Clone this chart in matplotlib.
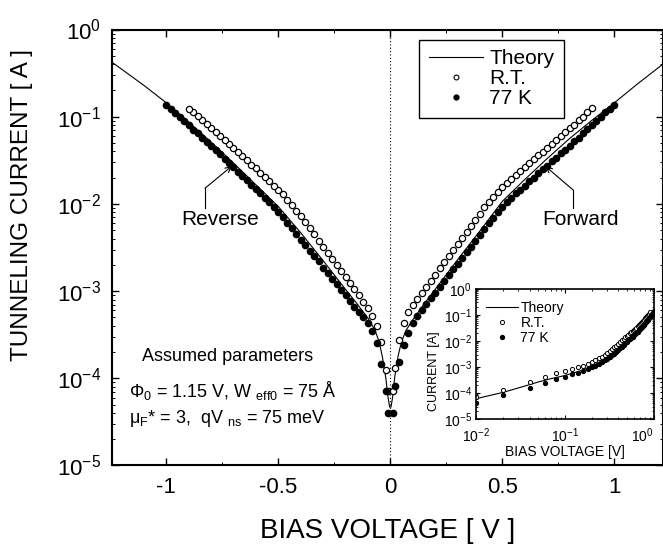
import numpy as np
import matplotlib
matplotlib.use('Agg')
import matplotlib.pyplot as plt
from matplotlib.lines import Line2D
from matplotlib.ticker import LogLocator, NullFormatter, MultipleLocator

plt.rcParams['font.family'] = ['Liberation Sans', 'DejaVu Sans']
plt.rcParams['mathtext.default'] = 'regular'
plt.rcParams['axes.unicode_minus'] = False

# bias voltage magnitudes (V), data every 20 mV
volt_77 = [0.01, 0.02, 0.04, 0.06, 0.08, 0.10, 0.12, 0.14, 0.16, 0.18, 0.20,
           0.22, 0.24, 0.26, 0.28, 0.30, 0.32, 0.34, 0.36, 0.38, 0.40,
           0.42, 0.44, 0.46, 0.48, 0.50, 0.52, 0.54, 0.56, 0.58, 0.60,
           0.62, 0.64, 0.66, 0.68, 0.70, 0.72, 0.74, 0.76, 0.78, 0.80,
           0.82, 0.84, 0.86, 0.88, 0.90, 0.92, 0.94, 0.96, 0.98, 1.00]
volt_rt = [0.01, 0.02, 0.04, 0.06, 0.08, 0.10, 0.12, 0.14, 0.16, 0.18, 0.20,
           0.22, 0.24, 0.26, 0.28, 0.30, 0.32, 0.34, 0.36, 0.38, 0.40,
           0.42, 0.44, 0.46, 0.48, 0.50, 0.52, 0.54, 0.56, 0.58, 0.60,
           0.62, 0.64, 0.66, 0.68, 0.70, 0.72, 0.74, 0.76, 0.78, 0.80,
           0.82, 0.84, 0.86, 0.88, 0.90]

# log10 of current [A]
logI_77_fwd = [-4.40, -4.09, -3.81, -3.62, -3.48, -3.37, -3.29, -3.22, -3.15, -3.08, -3.02,
               -2.95, -2.88, -2.82, -2.75, -2.69, -2.62, -2.55, -2.49, -2.42, -2.36,
               -2.29, -2.22, -2.16, -2.09, -2.03, -1.98, -1.93, -1.88, -1.84, -1.79,
               -1.74, -1.70, -1.65, -1.60, -1.56, -1.51, -1.47, -1.42, -1.38, -1.33,
               -1.28, -1.24, -1.19, -1.14, -1.10, -1.05, -1.00, -0.95, -0.91, -0.86]
logI_77_rev = [-4.40, -4.15, -3.84, -3.60, -3.46, -3.36, -3.30, -3.24, -3.18, -3.11, -3.05,
               -2.99, -2.92, -2.86, -2.79, -2.73, -2.66, -2.60, -2.54, -2.47, -2.41,
               -2.34, -2.28, -2.22, -2.15, -2.09, -2.03, -1.98, -1.93, -1.88, -1.83,
               -1.78, -1.73, -1.68, -1.63, -1.58, -1.53, -1.48, -1.43, -1.38, -1.34,
               -1.29, -1.24, -1.19, -1.15, -1.10, -1.05, -1.00, -0.96, -0.91, -0.86]
logI_rt_fwd = [-4.15, -3.88, -3.56, -3.37, -3.24, -3.16, -3.09, -3.02, -2.95, -2.88, -2.81,
               -2.74, -2.67, -2.60, -2.53, -2.46, -2.39, -2.32, -2.25, -2.18, -2.11,
               -2.04, -1.98, -1.92, -1.86, -1.81, -1.76, -1.71, -1.67, -1.62, -1.58,
               -1.53, -1.49, -1.44, -1.40, -1.36, -1.31, -1.27, -1.22, -1.18, -1.13,
               -1.09, -1.04, -1.00, -0.95, -0.90]
logI_rt_rev = [-4.15, -3.90, -3.58, -3.40, -3.28, -3.19, -3.12, -3.05, -2.98, -2.91, -2.84,
               -2.77, -2.70, -2.63, -2.56, -2.49, -2.42, -2.35, -2.28, -2.21, -2.14,
               -2.08, -2.01, -1.95, -1.89, -1.84, -1.79, -1.74, -1.69, -1.64, -1.59,
               -1.55, -1.50, -1.45, -1.40, -1.36, -1.31, -1.27, -1.22, -1.17, -1.13,
               -1.08, -1.04, -0.99, -0.95, -0.91]

# theory curve
volt_th = [-1.25, -1.1, -1.0, -0.9, -0.8, -0.7, -0.6, -0.5, -0.4, -0.3, -0.2, -0.15,
           -0.1, -0.07, -0.05, -0.035, -0.02, -0.01, -0.003,
           0.003, 0.01, 0.02, 0.035, 0.05, 0.07, 0.1, 0.15, 0.2, 0.3, 0.4, 0.5,
           0.6, 0.7, 0.8, 0.9, 1.0, 1.1, 1.25]
logI_th = [-0.36, -0.64, -0.84, -1.06, -1.29, -1.53, -1.78, -2.03, -2.33, -2.65, -2.98, -3.14,
           -3.31, -3.44, -3.58, -3.76, -4.00, -4.22, -4.33,
           -4.33, -4.22, -3.98, -3.74, -3.58, -3.45, -3.33, -3.15, -2.98, -2.64, -2.31, -1.97,
           -1.72, -1.48, -1.25, -1.04, -0.84, -0.63, -0.33]

xtick_vals = [-1, -0.5, 0, 0.5, 1]
xtick_labels = ['-1', '-0.5', '0', '0.5', '1']

v77 = np.array(volt_77)
vrt = np.array(volt_rt)
I77f = 10 ** np.array(logI_77_fwd)
I77r = 10 ** np.array(logI_77_rev)
Irtf = 10 ** np.array(logI_rt_fwd)
Irtr = 10 ** np.array(logI_rt_rev)
vth = np.array(volt_th)
Ith = 10 ** np.array(logI_th)

fig = plt.figure(figsize=(6.63, 5.47), dpi=100)
ax = fig.add_axes([0.169, 0.149, 0.831, 0.797])

ax.plot(vth, Ith, '-', color='black', lw=0.8)
ax.plot(-vrt, Irtr, 'o', mfc='white', mec='black', ms=4.5, mew=0.9)
ax.plot(vrt, Irtf, 'o', mfc='white', mec='black', ms=4.5, mew=0.9)
ax.plot(-v77, I77r, 'o', color='black', ms=4.5)
ax.plot(v77, I77f, 'o', color='black', ms=4.5)
ax.axvline(0, color='black', ls=(0, (1, 2)), lw=0.8)

ax.set_yscale('log')
ax.set_ylim(1e-5, 1)
ax.set_xlim(-1.242, 1.217)
ax.set_xticks(xtick_vals)
ax.set_xticklabels(xtick_labels)
ax.xaxis.set_minor_locator(MultipleLocator(0.25))
ax.yaxis.set_minor_locator(LogLocator(base=10, subs=np.arange(2, 10), numticks=20))
ax.yaxis.set_minor_formatter(NullFormatter())
ax.tick_params(which='both', direction='in', top=True, right=True)
ax.tick_params(which='major', length=5, width=1, labelsize=16, pad=8)
ax.tick_params(which='minor', length=2.5, width=0.7)
for s in ax.spines.values():
    s.set_linewidth(1.5)

ax.set_xlabel('BIAS VOLTAGE [ V ]', fontsize=20, labelpad=15)
ax.set_ylabel('TUNNELING CURRENT [ A ]', fontsize=17.5)
ax.yaxis.set_label_coords(-0.143, 0.598)

# Reverse / Forward labels
ax.text(-0.76, 10 ** -2.18, 'Reverse', fontsize=15, ha='center', va='center')
ax.plot([-0.827, -0.827], [10 ** -2.05, 10 ** -1.82], color='black', lw=0.8)
ax.annotate('', xy=(-0.707, 10 ** -1.565), xytext=(-0.827, 10 ** -1.82),
            arrowprops=dict(arrowstyle='->', lw=0.8, color='black', shrinkA=0, shrinkB=0))
ax.text(0.851, 10 ** -2.18, 'Forward', fontsize=15, ha='center', va='center')
ax.plot([0.816, 0.816], [10 ** -2.05, 10 ** -1.84], color='black', lw=0.8)
ax.annotate('', xy=(0.693, 10 ** -1.57), xytext=(0.816, 10 ** -1.84),
            arrowprops=dict(arrowstyle='->', lw=0.8, color='black', shrinkA=0, shrinkB=0))

ax.text(0.054, 0.251, 'Assumed parameters', transform=ax.transAxes, fontsize=13, va='center')
ax.text(0.031, 0.172, '$\\mathregular{Φ_0}$ = 1.15 V, W $\\mathregular{_{eff0}}$ = 75 Å',
        transform=ax.transAxes, fontsize=13, va='center')
ax.text(0.031, 0.108, '$\\mathregular{μ_F}$* = 3,  qV $\\mathregular{_{ns}}$ = 75 meV',
        transform=ax.transAxes, fontsize=13, va='center')

handles = [Line2D([], [], color='black', lw=0.8),
           Line2D([], [], ls='', marker='o', mfc='white', mec='black', ms=3.5, mew=0.8),
           Line2D([], [], ls='', marker='o', color='black', ms=3.5)]
leg = ax.legend(handles, ['Theory', 'R.T.', '77 K'], loc='upper left',
                bbox_to_anchor=(0.558, 0.976), borderaxespad=0, fontsize=15,
                handlelength=2.6, handletextpad=0.3, labelspacing=0.05,
                borderpad=0.45, fancybox=False, framealpha=1, edgecolor='black')
leg.get_frame().set_linewidth(1.0)

# inset: forward bias on log-log
ins = fig.add_axes([0.718, 0.234, 0.268, 0.238])
ins.plot(vth, Ith, '-', color='black', lw=0.8)
ins.plot(vrt, Irtf, 'o', mfc='white', mec='black', ms=3, mew=0.7)
ins.plot(v77, I77f, 'o', color='black', ms=2.8)
ins.set_xscale('log')
ins.set_yscale('log')
ins.set_xlim(0.01, 1)
ins.set_ylim(1e-5, 1)
ins.set_xticks([0.01, 0.1, 1])
ins.set_yticks([1e-5, 1e-4, 1e-3, 1e-2, 1e-1, 1])
ins.yaxis.set_minor_locator(LogLocator(base=10, subs=np.arange(2, 10), numticks=20))
ins.yaxis.set_minor_formatter(NullFormatter())
ins.xaxis.set_minor_formatter(NullFormatter())
ins.tick_params(which='both', direction='in', top=True, right=True)
ins.tick_params(which='major', length=3, width=0.8, labelsize=10, pad=3)
ins.tick_params(axis='x', which='major', pad=5)
ins.tick_params(which='minor', length=1.5, width=0.6)
for s in ins.spines.values():
    s.set_linewidth(1.2)
fig.canvas.draw()
ins.get_xticklabels()[-1].set_horizontalalignment('right')
ins.set_xlabel('BIAS VOLTAGE [V]', fontsize=10, labelpad=0)
ins.set_ylabel('CURRENT [A]', fontsize=9)
ins.yaxis.set_label_coords(-0.2, 0.37)
ins_handles = [Line2D([], [], color='black', lw=0.8),
               Line2D([], [], ls='', marker='o', mfc='white', mec='black', ms=3, mew=0.7),
               Line2D([], [], ls='', marker='o', color='black', ms=2.8)]
ins.legend(ins_handles, ['Theory', 'R.T.', '77 K'], loc='upper left', frameon=False,
           fontsize=10, handlelength=2.3, handletextpad=0.2, labelspacing=0.05,
           borderaxespad=0.3, bbox_to_anchor=(0.0, 0.98))

fig.savefig('out.png', dpi=100)
